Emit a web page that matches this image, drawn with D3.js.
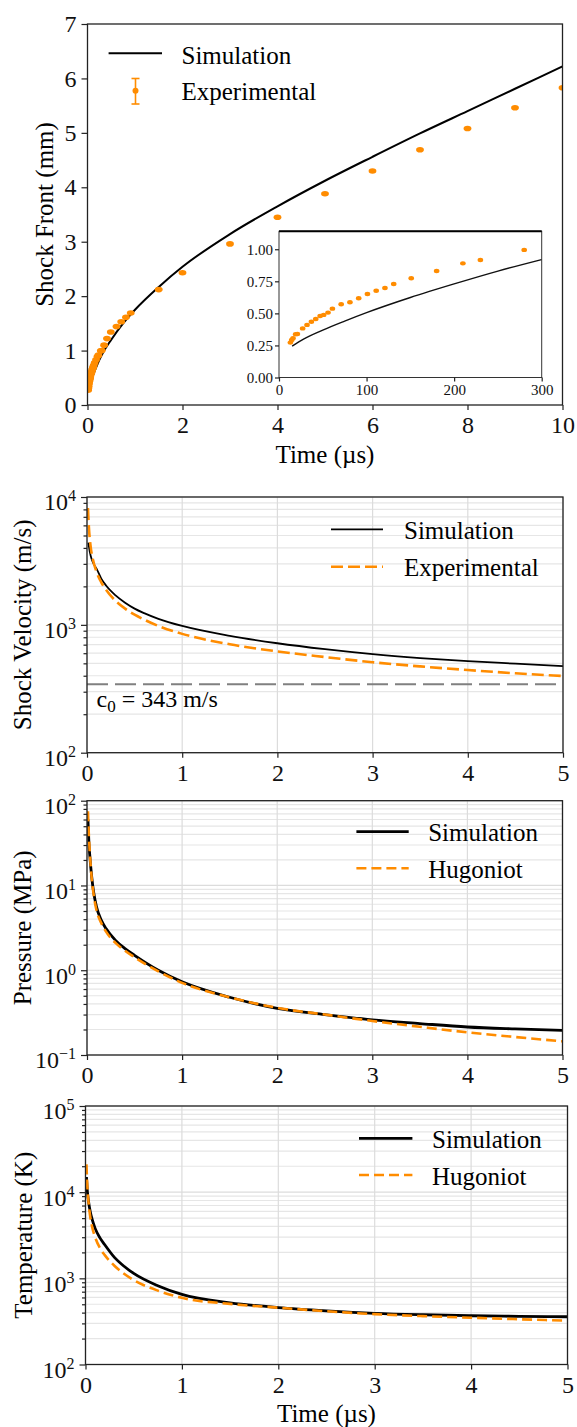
<!DOCTYPE html>
<html>
<head>
<meta charset="utf-8">
<script src="https://cdn.jsdelivr.net/npm/d3@7"></script>
<style>
body { margin: 0; background: #fff; }
svg { display: block; }
svg text { font-family: 'Liberation Serif', Tinos, 'Times New Roman', 'DejaVu Serif', serif; }
</style>
</head>
<body>
<svg id="chart"></svg>
<script>
// ---- data ----
// shock front position (mm) vs time (us)
var frontSimTime = [0.015, 0.028, 0.05, 0.075, 0.1, 0.15, 0.2, 0.25, 0.3, 0.5, 0.75, 1, 1.5, 2, 3, 4, 5, 6, 7, 8, 9, 10];
var frontSimPos  = [0.245, 0.30, 0.37, 0.44, 0.506, 0.624, 0.73, 0.83, 0.92, 1.2, 1.5, 1.75, 2.17, 2.54, 3.14, 3.65, 4.12, 4.56, 4.99, 5.4, 5.81, 6.22];

var frontExpTime = [0.013, 0.0145, 0.016, 0.019, 0.021, 0.027, 0.032, 0.037, 0.042, 0.047, 0.051, 0.056, 0.061,
                    0.071, 0.081, 0.091, 0.101, 0.111, 0.121, 0.131, 0.151, 0.18, 0.21, 0.23, 0.28,
                    0.3, 0.35, 0.41, 0.49, 0.61, 0.71, 0.81, 0.91, 1.5, 2, 3, 4, 5, 6, 7, 8, 9, 10];
var frontExpPos  = [0.272, 0.293, 0.306, 0.337, 0.339, 0.383, 0.41, 0.435, 0.456, 0.48, 0.488, 0.506, 0.537,
                    0.571, 0.587, 0.618, 0.651, 0.677, 0.698, 0.729, 0.774, 0.831, 0.89, 0.916, 0.995,
                    1.0, 1.1, 1.22, 1.34, 1.44, 1.53, 1.61, 1.69, 2.12, 2.43, 2.96, 3.45, 3.88, 4.3, 4.69, 5.08, 5.46, 5.83];

// shock velocity (m/s) vs time (us)
var velSimTime = [0.015, 0.03, 0.05, 0.07, 0.1, 0.15, 0.2, 0.3, 0.4, 0.5, 0.6, 0.75, 1, 1.5, 2, 2.5, 3, 3.5, 4, 4.5, 5];
var velSim     = [4400, 3700, 3250, 3000, 2750, 2300, 2030, 1700, 1490, 1340, 1235, 1115, 980, 820, 718, 645, 590, 550, 520, 497, 476];
var velExpTime = [0.01, 0.02, 0.04, 0.06, 0.1, 0.15, 0.2, 0.3, 0.4, 0.5, 0.6, 0.75, 1, 1.5, 2, 2.5, 3, 3.5, 4, 4.5, 5];
var velExp     = [8200, 5800, 4000, 3300, 2600, 2150, 1880, 1540, 1340, 1200, 1100, 980, 850, 705, 620, 560, 510, 473, 443, 418, 398];
var soundSpeed = 343;

// pressure (MPa) and temperature (K) vs time (us)
var thermoTime = [0.01, 0.02, 0.03, 0.05, 0.07, 0.1, 0.15, 0.2, 0.3, 0.4, 0.5, 0.75, 1, 1.5, 2, 2.5, 3, 3.5, 4, 4.5, 5];
var presSim    = [60, 32, 22, 12.5, 8.3, 5.6, 3.9, 3.1, 2.25, 1.8, 1.5, 1.0, 0.73, 0.48, 0.355, 0.3, 0.26, 0.235, 0.214, 0.203, 0.195];
var presHug    = [75, 38, 24, 12, 7.8, 5.1, 3.6, 2.85, 2.1, 1.7, 1.42, 0.97, 0.71, 0.48, 0.36, 0.3, 0.252, 0.215, 0.185, 0.163, 0.145];
var tempSim    = [15000, 10000, 8000, 5900, 4800, 3800, 2950, 2450, 1750, 1380, 1140, 820, 650, 520, 458, 420, 393, 378, 368, 362, 358];
var tempHug    = [21000, 11000, 8000, 5100, 3900, 3000, 2250, 1860, 1400, 1130, 955, 720, 594, 505, 456, 415, 384, 364, 349, 335, 322];

var xTicksFront = [0, 2, 4, 6, 8, 10];
var yTicksFront = [0, 1, 2, 3, 4, 5, 6, 7];
var xTicksInset = [0, 100, 200, 300];
var yTicksInset = [0, 0.25, 0.5, 0.75, 1.0];
var xTicksLog = [0, 1, 2, 3, 4, 5];

var FONT = "'Liberation Serif', Tinos, 'Times New Roman', 'DejaVu Serif', serif";
var ORANGE = '#ff8c00';
var width = 577, height = 1427;

var svg = d3.select('#chart')
    .attr('width', width)
    .attr('height', height);

svg.append('rect').attr('width', width).attr('height', height).attr('fill', '#fff');

function zip(a, b) {
    return a.map(function (d, i) { return [d, b[i]]; });
}

function styleAxis(g, size) {
    g.attr('font-family', FONT).attr('font-size', size);
    g.select('.domain').remove();
    g.selectAll('.tick line').attr('stroke', '#222').attr('stroke-width', 1.2);
    g.selectAll('.tick text').attr('fill', '#111');
}

// ================= panel 1 : shock front =================
var p1 = {left: 87.5, right: 562.5, top: 24, bottom: 405};
var x1 = d3.scaleLinear().domain([0, 10]).range([p1.left, p1.right]);
var y1 = d3.scaleLinear().domain([0, 7]).range([p1.bottom, p1.top]);

svg.append('clipPath').attr('id', 'clip1').append('rect')
    .attr('x', p1.left).attr('y', p1.top)
    .attr('width', p1.right - p1.left).attr('height', p1.bottom - p1.top);

var line1 = d3.line()
    .x(function (d) { return x1(d[0]); })
    .y(function (d) { return y1(d[1]); })
    .curve(d3.curveMonotoneX);

svg.append('path')
    .datum(zip(frontSimTime, frontSimPos))
    .attr('d', line1)
    .attr('fill', 'none').attr('stroke', '#000').attr('stroke-width', 2);

svg.append('g').attr('clip-path', 'url(#clip1)')
    .selectAll('ellipse')
    .data(zip(frontExpTime, frontExpPos))
    .enter()
    .append('ellipse')
    .attr('cx', function (d) { return x1(d[0]); })
    .attr('cy', function (d) { return y1(d[1]); })
    .attr('rx', 3.9).attr('ry', 2.8)
    .attr('fill', ORANGE);

svg.append('rect')
    .attr('x', p1.left).attr('y', p1.top)
    .attr('width', p1.right - p1.left).attr('height', p1.bottom - p1.top)
    .attr('fill', 'none').attr('stroke', '#222').attr('stroke-width', 1.3);

var ax1 = svg.append('g').attr('transform', 'translate(0,' + p1.bottom + ')')
    .call(d3.axisBottom(x1).tickValues(xTicksFront).tickFormat(d3.format('d'))
        .tickSize(5).tickPadding(6).tickSizeOuter(0));
styleAxis(ax1, 24);
var ay1 = svg.append('g').attr('transform', 'translate(' + p1.left + ',0)')
    .call(d3.axisLeft(y1).tickValues(yTicksFront).tickFormat(d3.format('d'))
        .tickSize(6).tickPadding(5).tickSizeOuter(0));
styleAxis(ay1, 24);

svg.append('text')
    .attr('x', (p1.left + p1.right) / 2).attr('y', 463)
    .attr('text-anchor', 'middle').attr('font-size', 25)
    .text('Time (\u00b5s)');
svg.append('text')
    .attr('transform', 'translate(44,' + ((p1.top + p1.bottom) / 2) + ') rotate(-90)')
    .attr('text-anchor', 'middle').attr('dy', '0.35em').attr('font-size', 25)
    .text('Shock Front (mm)');

// legend
svg.append('line').attr('x1', 108.6).attr('x2', 162).attr('y1', 53.3).attr('y2', 53.3)
    .attr('stroke', '#000').attr('stroke-width', 2);
svg.append('text').attr('x', 181.5).attr('y', 63.5).attr('font-size', 25).text('Simulation');
var eb = svg.append('g').attr('stroke', ORANGE).attr('stroke-width', 1.6);
eb.append('line').attr('x1', 135.5).attr('x2', 135.5).attr('y1', 78.5).attr('y2', 104);
eb.append('line').attr('x1', 131.5).attr('x2', 139.5).attr('y1', 78.5).attr('y2', 78.5);
eb.append('line').attr('x1', 131.5).attr('x2', 139.5).attr('y1', 104).attr('y2', 104);
svg.append('circle').attr('cx', 135.5).attr('cy', 90.7).attr('r', 3).attr('fill', ORANGE);
svg.append('text').attr('x', 181.5).attr('y', 100).attr('font-size', 25).text('Experimental');

// inset (time in ns)
var pi = {left: 279, right: 541.7, top: 231.3, bottom: 377.5};
var xi = d3.scaleLinear().domain([0, 300]).range([pi.left, pi.right]);
var yi = d3.scaleLinear().domain([0, 1.14]).range([pi.bottom, pi.top]);

svg.append('rect')
    .attr('x', pi.left).attr('y', pi.top)
    .attr('width', pi.right - pi.left).attr('height', pi.bottom - pi.top)
    .attr('fill', '#fff');

var insetSim = zip(frontSimTime, frontSimPos)
    .filter(function (d) { return d[0] <= 0.3; })
    .map(function (d) { return [d[0] * 1000, d[1]]; });
var insetExp = zip(frontExpTime, frontExpPos)
    .filter(function (d) { return d[0] < 0.3; })
    .map(function (d) { return [d[0] * 1000, d[1]]; });

svg.append('path')
    .datum(insetSim)
    .attr('d', d3.line()
        .x(function (d) { return xi(d[0]); })
        .y(function (d) { return yi(d[1]); })
        .curve(d3.curveMonotoneX))
    .attr('fill', 'none').attr('stroke', '#111').attr('stroke-width', 1.4);

svg.selectAll('.inset-pt')
    .data(insetExp)
    .enter()
    .append('ellipse')
    .attr('class', 'inset-pt')
    .attr('cx', function (d) { return xi(d[0]); })
    .attr('cy', function (d) { return yi(d[1]); })
    .attr('rx', 2.8).attr('ry', 2.2)
    .attr('fill', ORANGE);

svg.append('rect')
    .attr('x', pi.left).attr('y', pi.top)
    .attr('width', pi.right - pi.left).attr('height', pi.bottom - pi.top)
    .attr('fill', 'none').attr('stroke', '#333').attr('stroke-width', 1);
svg.append('line').attr('x1', pi.left).attr('x2', pi.right).attr('y1', pi.top).attr('y2', pi.top)
    .attr('stroke', '#000').attr('stroke-width', 2);

var axi = svg.append('g').attr('transform', 'translate(0,' + pi.bottom + ')')
    .call(d3.axisBottom(xi).tickValues(xTicksInset).tickFormat(d3.format('d'))
        .tickSize(4).tickPadding(3).tickSizeOuter(0));
styleAxis(axi, 15);
var ayi = svg.append('g').attr('transform', 'translate(' + pi.left + ',0)')
    .call(d3.axisLeft(yi).tickValues(yTicksInset).tickSize(4).tickPadding(2).tickSizeOuter(0)
        .tickFormat(d3.format('.2f')));
styleAxis(ayi, 15);

// ================= log panels =================
function logPanel(p) {
    var g = svg.append('g');
    var x = d3.scaleLinear().domain([0, 5]).range([p.left, p.right]);
    var y = d3.scaleLog().domain([p.lo, p.hi]).range([p.bottom, p.top]);
    var e0 = Math.round(Math.log10(p.lo)), e1 = Math.round(Math.log10(p.hi));

    var majors = d3.range(e0, e1 + 1).map(function (e) { return Math.pow(10, e); });
    var minors = [];
    d3.range(e0, e1).forEach(function (e) {
        for (var m = 2; m < 10; m++) minors.push(m * Math.pow(10, e));
    });

    // grid
    g.selectAll('.hmin').data(minors).enter().append('line')
        .attr('x1', p.left).attr('x2', p.right)
        .attr('y1', function (d) { return y(d); }).attr('y2', function (d) { return y(d); })
        .attr('stroke', '#e6e6e6').attr('stroke-width', 1.2);
    g.selectAll('.hmaj').data(majors).enter().append('line')
        .attr('x1', p.left).attr('x2', p.right)
        .attr('y1', function (d) { return y(d); }).attr('y2', function (d) { return y(d); })
        .attr('stroke', '#dcdcdc').attr('stroke-width', 1.2);
    g.selectAll('.vgrid').data(xTicksLog).enter().append('line')
        .attr('x1', function (d) { return x(d); }).attr('x2', function (d) { return x(d); })
        .attr('y1', p.top).attr('y2', p.bottom)
        .attr('stroke', '#dcdcdc').attr('stroke-width', 1.2);

    var clipId = 'clip-' + p.id;
    svg.append('clipPath').attr('id', clipId).append('rect')
        .attr('x', p.left).attr('y', p.top)
        .attr('width', p.right - p.left).attr('height', p.bottom - p.top);

    var line = d3.line()
        .x(function (d) { return x(d[0]); })
        .y(function (d) { return y(d[1]); })
        .curve(d3.curveMonotoneX);

    var plot = g.append('g').attr('clip-path', 'url(#' + clipId + ')');
    if (p.hline) {
        plot.append('line')
            .attr('x1', p.left).attr('x2', p.right)
            .attr('y1', y(p.hline)).attr('y2', y(p.hline))
            .attr('stroke', '#808080').attr('stroke-width', 2).attr('stroke-dasharray', '21,7');
    }
    p.series.forEach(function (s) {
        plot.append('path')
            .datum(zip(s.t, s.v))
            .attr('d', line)
            .attr('fill', 'none')
            .attr('stroke', s.color)
            .attr('stroke-width', s.width)
            .attr('stroke-dasharray', s.dash || null);
    });

    g.append('rect')
        .attr('x', p.left).attr('y', p.top)
        .attr('width', p.right - p.left).attr('height', p.bottom - p.top)
        .attr('fill', 'none').attr('stroke', '#222').attr('stroke-width', 1.3);

    var ax = g.append('g').attr('transform', 'translate(0,' + p.bottom + ')')
        .call(d3.axisBottom(x).tickValues(xTicksLog).tickFormat(d3.format('d'))
            .tickSize(5).tickPadding(6).tickSizeOuter(0));
    styleAxis(ax, 24);

    var ayMinor = g.append('g').attr('transform', 'translate(' + p.left + ',0)')
        .call(d3.axisLeft(y).tickValues(minors).tickSize(3.5).tickFormat('').tickSizeOuter(0));
    styleAxis(ayMinor, 24);

    var ay = g.append('g').attr('transform', 'translate(' + p.left + ',0)')
        .call(d3.axisLeft(y).tickValues(majors).tickSize(6).tickPadding(5).tickFormat('').tickSizeOuter(0));
    styleAxis(ay, 24);
    ay.selectAll('.tick text').attr('dy', '0.54em').each(function (d) {
        var t = d3.select(this);
        var e = Math.round(Math.log10(d));
        t.append('tspan').text('10');
        t.append('tspan').attr('dy', -9).attr('font-size', 16).text(e < 0 ? '\u2212' + (-e) : String(e));
    });

    g.append('text')
        .attr('transform', 'translate(' + p.ylabelX + ',' + ((p.top + p.bottom) / 2) + ') rotate(-90)')
        .attr('text-anchor', 'middle').attr('dy', '0.35em').attr('font-size', 25)
        .text(p.ylabel);

    // legend
    p.series.forEach(function (s, i) {
        var ly = p.legend.y[i];
        g.append('line')
            .attr('x1', p.legend.x1).attr('x2', p.legend.x2)
            .attr('y1', ly).attr('y2', ly)
            .attr('stroke', s.color).attr('stroke-width', s.width)
            .attr('stroke-dasharray', s.dash || null);
        g.append('text')
            .attr('x', p.legend.tx).attr('y', ly + 9.5)
            .attr('font-size', 25)
            .text(s.name);
    });

    if (p.xlabel) {
        g.append('text')
            .attr('x', (p.left + p.right) / 2).attr('y', p.xlabelY)
            .attr('text-anchor', 'middle').attr('font-size', 25)
            .text(p.xlabel);
    }
    return {x: x, y: y, g: g};
}

// panel 2 : shock velocity
var v = logPanel({
    id: 'vel', left: 87, right: 563, top: 497, bottom: 752.7, lo: 100, hi: 10000,
    ylabel: 'Shock Velocity (m/s)', ylabelX: 22, hline: soundSpeed,
    series: [
        {name: 'Simulation', t: velSimTime, v: velSim, color: '#000', width: 1.8},
        {name: 'Experimental', t: velExpTime, v: velExp, color: ORANGE, width: 2.6, dash: '12,5'}
    ],
    legend: {x1: 331, x2: 383, tx: 404, y: [529.3, 566.7]}
});
var c0 = v.g.append('text').attr('x', 96.5).attr('y', 707).attr('font-size', 24);
c0.append('tspan').text('c');
c0.append('tspan').attr('dy', 5).attr('font-size', 17).text('0');
c0.append('tspan').attr('dy', -5).text(' = 343 m/s');

// panel 3 : pressure
logPanel({
    id: 'pres', left: 87, right: 562.5, top: 800.7, bottom: 1055, lo: 0.1, hi: 100,
    ylabel: 'Pressure (MPa)', ylabelX: 22,
    series: [
        {name: 'Simulation', t: thermoTime, v: presSim, color: '#000', width: 2.8},
        {name: 'Hugoniot', t: thermoTime, v: presHug, color: ORANGE, width: 2.6, dash: '10,5'}
    ],
    legend: {x1: 356.4, x2: 408.7, tx: 428.2, y: [831.7, 868.3]}
});

// panel 4 : temperature
logPanel({
    id: 'temp', left: 85.5, right: 567.5, top: 1106, bottom: 1364.5, lo: 100, hi: 100000,
    ylabel: 'Temperature (K)', ylabelX: 23,
    series: [
        {name: 'Simulation', t: thermoTime, v: tempSim, color: '#000', width: 2.8},
        {name: 'Hugoniot', t: thermoTime, v: tempHug, color: ORANGE, width: 2.6, dash: '10,5'}
    ],
    legend: {x1: 359, x2: 412.4, tx: 432, y: [1138.3, 1175]},
    xlabel: 'Time (\u00b5s)', xlabelY: 1422
});
</script>
</body>
</html>
